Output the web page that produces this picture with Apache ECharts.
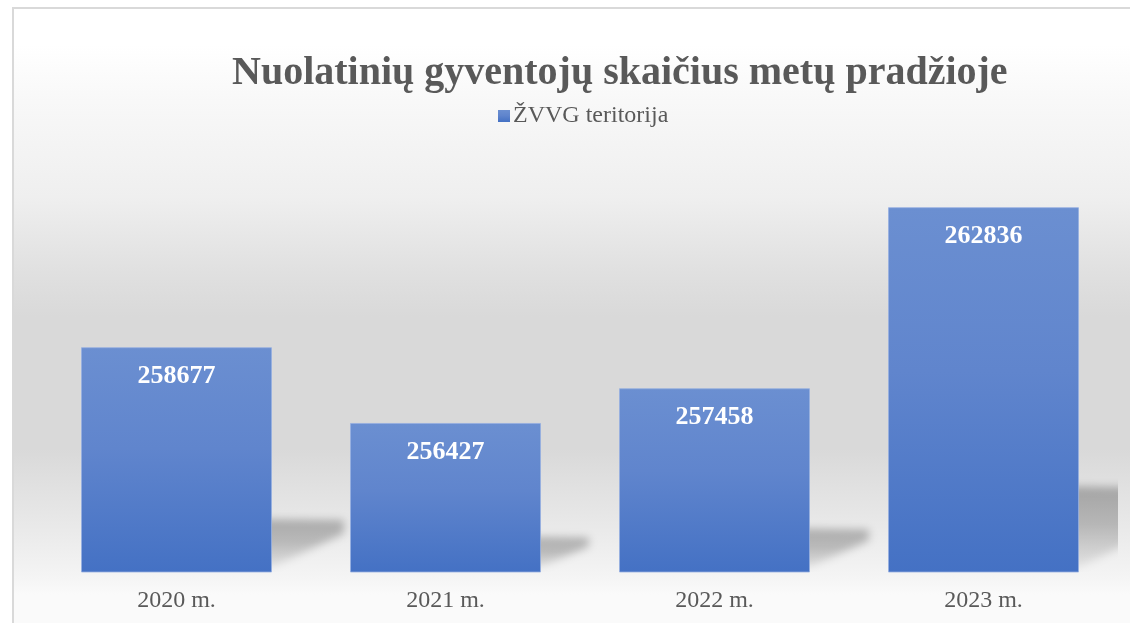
<!DOCTYPE html>
<html>
<head>
<meta charset="utf-8">
<script src="https://cdn.jsdelivr.net/npm/echarts@6/dist/echarts.min.js"></script>
<style>
  html, body { margin: 0; padding: 0; background: #ffffff; }
  #chart { width: 1130px; height: 623px; }
</style>
</head>
<body>
<div id="chart"></div>
<script>
const titleText = 'Nuolatinių gyventojų skaičius metų pradžioje';
const seriesName = 'ŽVVG teritorija';
const categories = ['2020 m.', '2021 m.', '2022 m.', '2023 m.'];
const values = [258677, 256427, 257458, 262836];
const yMin = 252000;
const yMax = 264000;

const serif = "'Liberation Serif', 'Times New Roman', serif";
const chart = echarts.init(document.getElementById('chart'), null, { renderer: 'canvas' });

const barGradient = new echarts.graphic.LinearGradient(0, 0, 0, 1, [
  { offset: 0, color: '#6b8fd1' },
  { offset: 0.45, color: '#6085cd' },
  { offset: 1, color: '#4471c4' }
]);

const shadowData = values.map((v, i) => [i, v]);
const OFF = 3000;

const option = {
  animation: false,
  backgroundColor: '#ffffff',
  graphic: [{
    type: 'rect',
    z: -10,
    silent: true,
    shape: { x: 13, y: 8, width: 1130, height: 630 },
    style: {
      fill: new echarts.graphic.LinearGradient(0, 0, 0, 1, [
        { offset: 0, color: '#ffffff' },
        { offset: 0.06, color: '#ffffff' },
        { offset: 0.15, color: '#f8f8f8' },
        { offset: 0.30, color: '#efefef' },
        { offset: 0.42, color: '#e0e0e0' },
        { offset: 0.49, color: '#d9d9d9' },
        { offset: 0.70, color: '#d9d9d9' },
        { offset: 0.80, color: '#e6e6e6' },
        { offset: 0.90, color: '#f4f4f4' },
        { offset: 0.93, color: '#fafafa' },
        { offset: 1, color: '#fafafa' }
      ]),
      stroke: '#d9d9d9',
      lineWidth: 2
    }
  }],
  title: {
    text: titleText,
    left: 232,
    top: 54,
    padding: 0,
    textStyle: {
      fontFamily: serif,
      fontSize: 40,
      fontWeight: 'bold',
      color: '#595959',
      lineHeight: 40
    }
  },
  legend: {
    data: [seriesName],
    left: 498,
    top: 104,
    padding: 0,
    icon: 'rect',
    itemWidth: 12,
    itemHeight: 12,
    itemStyle: { borderWidth: 0 },
    textStyle: {
      fontFamily: serif,
      fontSize: 24,
      color: '#595959',
      padding: [0, 0, 0, -2]
    }
  },
  grid: {
    left: 42,
    right: 12,
    top: 168,
    bottom: 51,
    containLabel: false
  },
  xAxis: {
    type: 'category',
    data: categories,
    axisLine: { show: false },
    axisTick: { show: false },
    axisLabel: {
      fontFamily: serif,
      fontSize: 24,
      color: '#595959',
      margin: 17
    },
    splitLine: { show: false }
  },
  yAxis: {
    type: 'value',
    min: yMin,
    max: yMax,
    show: false,
    splitLine: { show: false }
  },
  series: [
    {
      type: 'custom',
      name: 'shadow',
      z: 1,
      clip: true,
      silent: true,
      data: shadowData,
      encode: { x: 0, y: 1 },
      renderItem: function (params, api) {
        const i = api.value(0);
        const v = api.value(1);
        const top = api.coord([i, v]);
        const base = api.coord([i, yMin]);
        const band = api.size([1, 0])[0];
        const bw = band * 0.71;
        const xr = base[0] + bw / 2 - OFF;
        const h = base[1] - top[1];
        const b = base[1];
        return {
          type: 'polygon',
          shape: {
            points: [
              [xr - 20, b - 2],
              [xr - 20, b - 0.235 * h],
              [xr + 0.32 * h, b - 0.23 * h],
              [xr + 0.32 * h, b - 0.17 * h],
              [xr, b - 4]
            ]
          },
          style: {
            fill: new echarts.graphic.LinearGradient(0, 0, 0, 1, [
              { offset: 0, color: 'rgba(0,0,0,1)' },
              { offset: 0.45, color: 'rgba(0,0,0,0.8)' },
              { offset: 1, color: 'rgba(0,0,0,0.2)' }
            ]),
            shadowBlur: 9,
            shadowOffsetX: OFF,
            shadowOffsetY: 0,
            shadowColor: 'rgba(0,0,0,0.27)'
          }
        };
      }
    },
    {
      type: 'bar',
      name: seriesName,
      z: 3,
      data: values,
      barWidth: '71%',
      itemStyle: {
        color: barGradient,
        borderColor: 'rgba(150,175,225,0.8)',
        borderWidth: 1
      },
      label: {
        show: true,
        position: 'insideTop',
        distance: 16,
        fontFamily: serif,
        fontSize: 26,
        fontWeight: 'bold',
        color: '#ffffff'
      }
    }
  ]
};

chart.setOption(option);
</script>
</body>
</html>
